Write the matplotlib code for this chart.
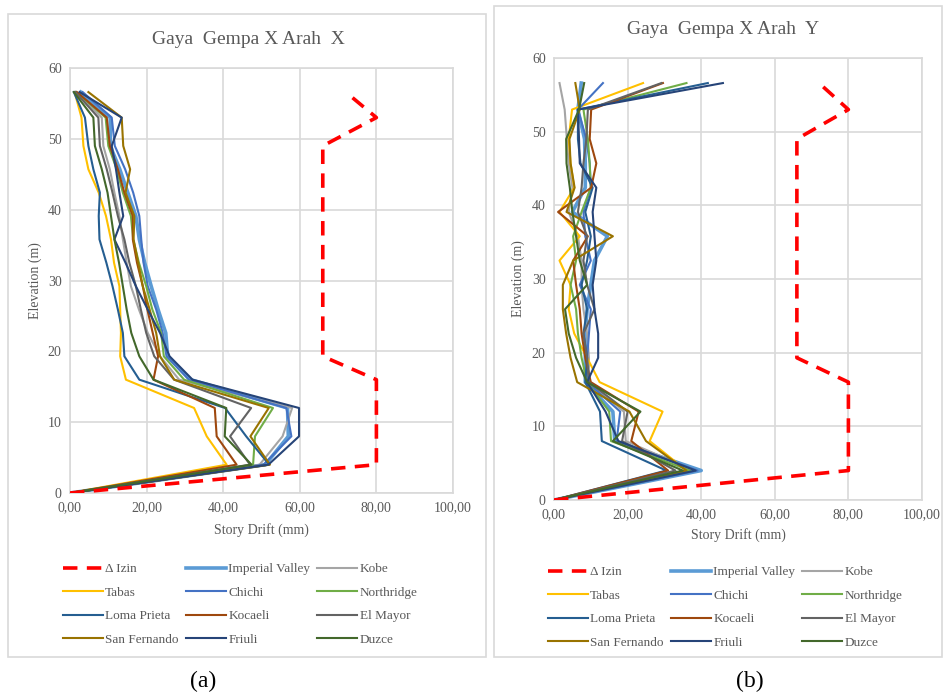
import matplotlib
matplotlib.use('Agg')
import matplotlib.pyplot as plt
from matplotlib.patches import Rectangle
from matplotlib.ticker import FuncFormatter

plt.rcParams['font.family'] = ['Liberation Serif', 'DejaVu Serif']

# elevasi lantai (m)
elevasi = [0, 4, 8, 12, 16, 19.3, 22.6, 25.9, 29.2, 32.5, 35.8, 39.1, 42.4, 45.7, 49, 53, 56.6]
izin = [0, 80, 80, 80, 80, 66, 66, 66, 66, 66, 66, 66, 66, 66, 66, 80, 72]

nama = ['Imperial Valley', 'Kobe', 'Tabas', 'Chichi', 'Northridge', 'Loma Prieta',
        'Kocaeli', 'El Mayor', 'San Fernando', 'Friuli', 'Duzce']
warna = ['#5B9BD5', '#A5A5A5', '#FFC000', '#4472C4', '#70AD47', '#255E91',
         '#9E480E', '#636363', '#997300', '#264478', '#43682B']

# Gaya Gempa X Arah X
drift_x = {
    'Imperial Valley': [0, 51.0, 57.0, 56.8, 31.5, 25.5, 25.0, 23.0, 21.2, 19.5, 18.1, 17.2, 15.1, 13.0, 10.5, 10.5, 2.8],
    'Kobe':            [0, 49.5, 55.5, 58.0, 28.5, 23.5, 20.3, 18.0, 15.9, 14.8, 13.8, 12.9, 11.6, 10.4, 8.7, 8.3, 1.5],
    'Tabas':           [0, 40.9, 35.7, 32.4, 14.6, 13.1, 13.3, 13.1, 12.9, 11.5, 10.7, 9.4, 7.5, 4.8, 3.5, 3.0, 1.2],
    'Chichi':          [0, 50.5, 57.8, 56.5, 31.0, 25.2, 24.2, 22.5, 20.3, 19.2, 18.6, 18.1, 16.5, 14.4, 11.7, 10.9, 3.3],
    'Northridge':      [0, 47.8, 48.3, 53.0, 29.8, 24.5, 23.8, 21.5, 19.9, 18.0, 16.5, 15.9, 13.8, 12.2, 10.0, 9.3, 1.6],
    'Loma Prieta':     [0, 52.0, 46.0, 40.5, 18.1, 14.2, 13.8, 12.5, 11.1, 9.5, 7.7, 7.5, 7.8, 6.1, 4.8, 3.9, 1.0],
    'Kocaeli':         [0, 43.5, 38.3, 37.8, 21.8, 23.0, 21.6, 20.2, 19.0, 17.5, 16.4, 16.4, 14.2, 12.5, 10.4, 9.6, 1.8],
    'El Mayor':        [0, 47.0, 41.8, 47.3, 27.2, 22.0, 19.9, 18.5, 17.2, 15.5, 14.2, 12.5, 11.1, 9.6, 7.8, 7.4, 1.4],
    'San Fernando':    [0, 52.2, 47.1, 51.9, 27.2, 23.5, 22.5, 20.8, 19.0, 17.8, 16.6, 16.8, 14.5, 15.7, 13.9, 13.5, 4.8],
    'Friuli':          [0, 51.8, 59.8, 59.8, 32.0, 26.0, 23.5, 20.3, 17.2, 14.5, 11.6, 13.9, 12.9, 12.0, 10.9, 13.5, 2.5],
    'Duzce':           [0, 47.4, 40.4, 40.8, 21.8, 18.1, 16.0, 14.8, 13.8, 12.8, 11.6, 10.7, 9.8, 8.3, 6.5, 6.1, 1.0],
}

# Gaya Gempa X Arah Y
drift_y = {
    'Imperial Valley': [0, 40.0, 16.5, 16.0, 8.5, 8.5, 8.5, 9.0, 10.0, 11.0, 14.5, 5.0, 8.5, 8.5, 8.3, 6.5, 7.4],
    'Kobe':            [0, 38.0, 19.5, 19.0, 9.5, 9.5, 9.0, 8.0, 7.5, 7.5, 6.5, 4.0, 5.0, 4.0, 3.5, 2.9, 1.5],
    'Tabas':           [0, 36.0, 26.0, 29.5, 12.4, 9.0, 5.5, 4.0, 4.5, 1.5, 7.0, 1.5, 5.5, 4.5, 4.0, 4.9, 24.2],
    'Chichi':          [0, 39.0, 17.0, 18.0, 9.0, 9.0, 9.5, 10.0, 7.0, 10.0, 8.5, 8.0, 10.0, 9.7, 8.8, 6.5, 13.3],
    'Northridge':      [0, 37.0, 15.5, 15.0, 9.0, 7.5, 6.5, 6.0, 4.5, 6.0, 5.2, 7.5, 10.0, 9.7, 9.2, 8.0, 36.0],
    'Loma Prieta':     [0, 30.5, 13.0, 12.5, 8.5, 9.0, 8.0, 9.0, 7.5, 9.0, 10.0, 8.5, 10.5, 7.2, 6.5, 6.5, 41.8],
    'Kocaeli':         [0, 31.0, 21.0, 23.0, 10.0, 8.5, 7.5, 7.0, 6.0, 5.2, 9.2, 1.1, 10.1, 11.5, 9.7, 10.1, 29.6],
    'El Mayor':        [0, 33.0, 18.5, 20.0, 9.5, 9.0, 8.0, 11.0, 9.0, 8.0, 9.0, 6.5, 7.5, 8.0, 8.8, 9.2, 29.2],
    'San Fernando':    [0, 36.0, 25.0, 20.5, 6.3, 4.5, 3.3, 2.4, 2.4, 5.2, 16.0, 3.4, 5.6, 4.5, 4.2, 7.0, 5.8],
    'Friuli':          [0, 38.5, 17.5, 14.0, 9.0, 12.0, 12.0, 11.0, 10.5, 11.5, 11.0, 10.5, 11.5, 7.0, 6.8, 6.5, 45.9],
    'Duzce':           [0, 35.0, 16.0, 23.5, 9.0, 6.0, 4.0, 3.0, 9.0, 7.0, 6.0, 5.0, 4.3, 3.4, 3.3, 6.8, 8.2],
}

teks = '#595959'
grid = '#D9D9D9'

fig = plt.figure(figsize=(9.43, 6.97), dpi=100)

# bingkai tiap grafik
fig.patches.append(Rectangle((8 / 943, 1 - 657 / 697), 478 / 943, 643 / 697,
                             transform=fig.transFigure, fill=False, ec=grid, lw=1.2))
fig.patches.append(Rectangle((494 / 943, 1 - 657 / 697), 448 / 943, 651 / 697,
                             transform=fig.transFigure, fill=False, ec=grid, lw=1.2))

ax1 = fig.add_axes([70 / 943, 1 - 493 / 697, 383 / 943, 425 / 697])
ax2 = fig.add_axes([554 / 943, 1 - 500 / 697, 368 / 943, 442 / 697])

panel = [(ax1, drift_x, 'Gaya  Gempa X Arah  X', 40, 248, 530, 35, (63, 563), '(a)', 203),
         (ax2, drift_y, 'Gaya  Gempa X Arah  Y', 30, 723, 535, 518, (548, 566), '(b)', 750)]

for ax, data, judul, ty, tx, ly, yx, leg, huruf, hx in panel:
    garis = {}
    garis['Δ Izin'], = ax.plot(izin, elevasi, color='#FF0000', lw=2.6,
                               dashes=(4, 2.6), zorder=3)
    for n, c in zip(nama, warna):
        lw = 2.6 if n == 'Imperial Valley' else 1.5
        garis[n], = ax.plot(data[n], elevasi, color=c, lw=lw, zorder=2)

    ax.set_xlim(0, 100)
    ax.set_ylim(0, 60)
    ax.set_xticks(range(0, 101, 20))
    ax.set_yticks(range(0, 61, 10))
    ax.xaxis.set_major_formatter(FuncFormatter(lambda v, p: '{:.2f}'.format(v).replace('.', ',')))
    ax.grid(True, color=grid, lw=1.2)
    ax.set_axisbelow(True)
    for s in ax.spines.values():
        s.set_color(grid)
        s.set_linewidth(1.2)
    ax.tick_params(length=0, labelsize=10, colors=teks, pad=6)

    fig.text(tx / 943, 1 - ty / 697, judul, ha='center', va='center', fontsize=14, color=teks)
    fig.text((ax.get_position().x0 + ax.get_position().x1) / 2, 1 - ly / 697, 'Story Drift (mm)',
             ha='center', va='center', fontsize=10, color=teks)
    fig.text(yx / 943, (ax.get_position().y0 + ax.get_position().y1) / 2, 'Elevation (m)',
             ha='center', va='center', rotation=90, fontsize=10, color=teks)

    urutan = ['Δ Izin', 'Tabas', 'Loma Prieta', 'San Fernando',
              'Imperial Valley', 'Chichi', 'Kocaeli', 'Friuli',
              'Kobe', 'Northridge', 'El Mayor', 'Duzce']
    lg = fig.legend([garis[u] for u in urutan], urutan, ncol=3, loc='upper left',
                    bbox_to_anchor=(leg[0] / 943, 1 - leg[1] / 697), frameon=False,
                    fontsize=9.5, handlelength=3.0, handletextpad=0.2, columnspacing=0.55,
                    labelspacing=0.85, borderpad=0, borderaxespad=0)
    for t in lg.get_texts():
        t.set_color(teks)

    fig.text(hx / 943, 1 - 681 / 697, huruf, ha='center', va='center', fontsize=17, color='black')

plt.savefig('out.png', dpi=100)
